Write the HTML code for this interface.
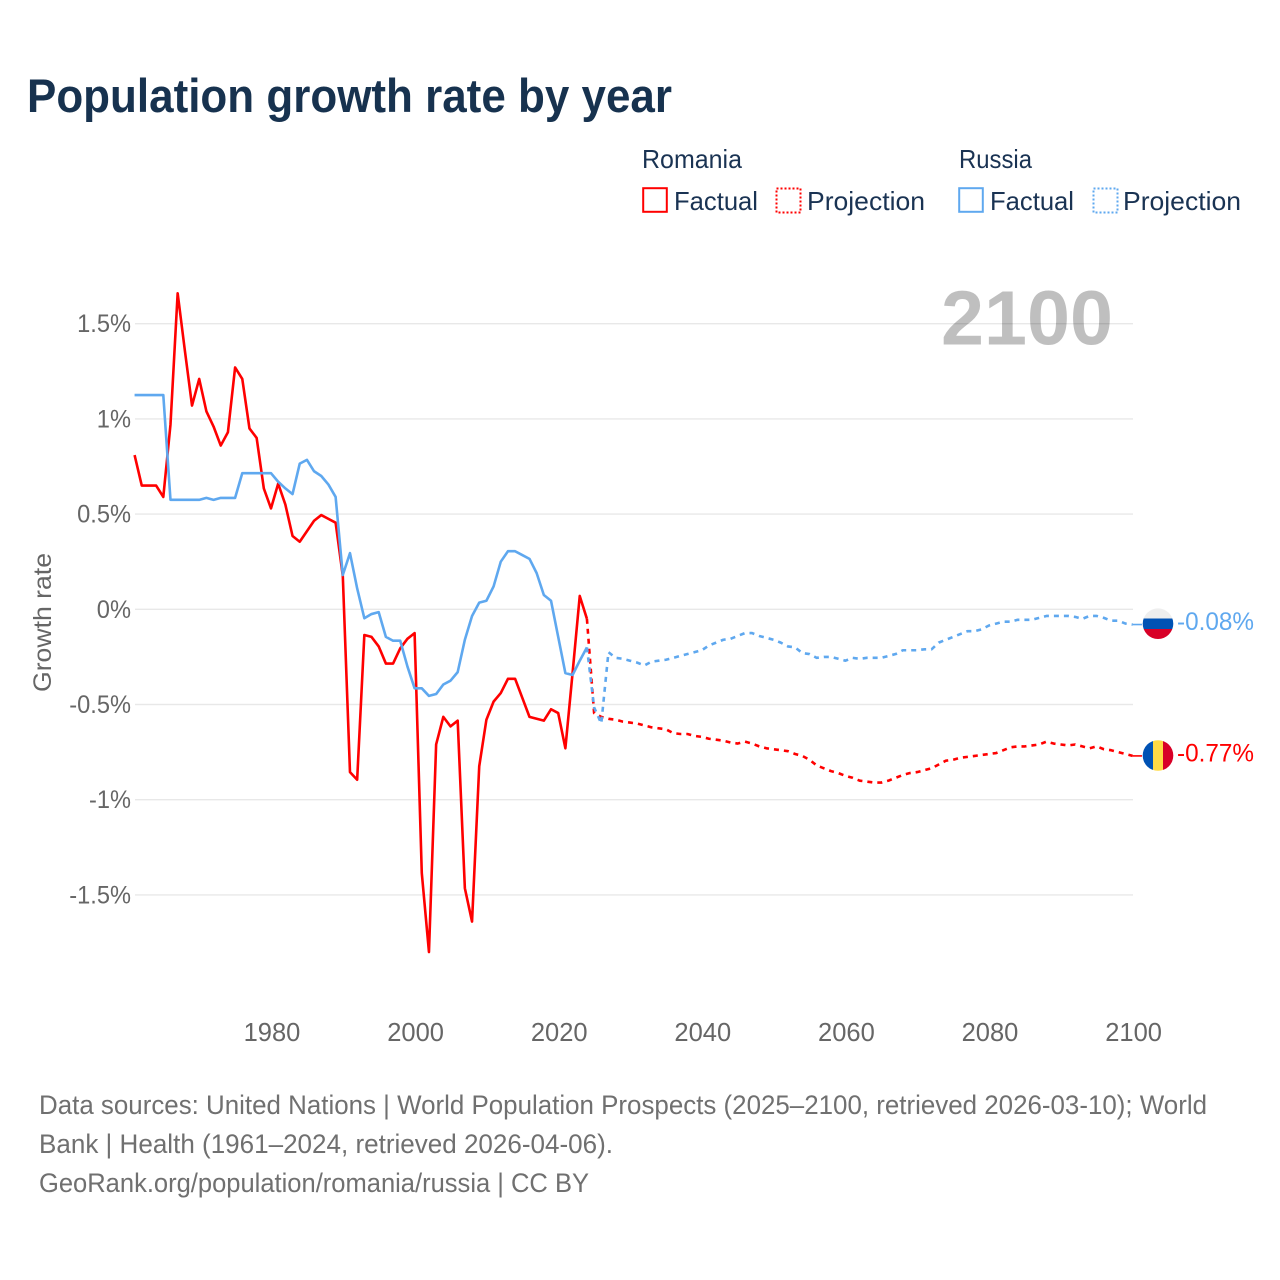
<!DOCTYPE html>
<html lang="en">
<head>
<meta charset="utf-8">
<title>Population growth rate by year</title>
<style>
html,body{margin:0;padding:0;background:#fff;}
svg{display:block;font-family:"Liberation Sans",sans-serif;}
</style>
</head>
<body>
<svg id="chart" xmlns="http://www.w3.org/2000/svg" width="1280" height="1280" viewBox="0 0 1280 1280">
  <rect width="1280" height="1280" fill="#ffffff"/>
  <text x="27" y="112" font-size="47" font-weight="700" fill="#17324f" textLength="645" lengthAdjust="spacingAndGlyphs">Population growth rate by year</text>

  <g font-size="26" fill="#1a3353">
    <text x="642" y="168" textLength="100" lengthAdjust="spacingAndGlyphs">Romania</text>
    <text x="959" y="168" textLength="73" lengthAdjust="spacingAndGlyphs">Russia</text>
    <g>
      <rect x="643.2" y="188.2" width="23.6" height="23.6" fill="none" stroke="#ff0000" stroke-width="2"/>
      <text x="674" y="210" textLength="84" lengthAdjust="spacingAndGlyphs">Factual</text>
    </g>
    <g>
      <rect x="776.5" y="188.5" width="24" height="24" fill="none" stroke="#ff0000" stroke-width="2" stroke-dasharray="2 2"/>
      <text x="807" y="210" textLength="118" lengthAdjust="spacingAndGlyphs">Projection</text>
    </g>
    <g>
      <rect x="959.2" y="188.2" width="23.6" height="23.6" fill="none" stroke="#5fa8ef" stroke-width="2"/>
      <text x="990" y="210" textLength="84" lengthAdjust="spacingAndGlyphs">Factual</text>
    </g>
    <g>
      <rect x="1093.5" y="188.5" width="24" height="24" fill="none" stroke="#5fa8ef" stroke-width="2" stroke-dasharray="2 2"/>
      <text x="1123" y="210" textLength="118" lengthAdjust="spacingAndGlyphs">Projection</text>
    </g>
  </g>

  <text x="941" y="344.5" font-size="77" font-weight="700" fill="#000000" fill-opacity="0.25" textLength="172" lengthAdjust="spacingAndGlyphs">2100</text>
  <g id="grid"></g>
  <g id="y-axis" font-size="25" fill="#666666" text-anchor="end"></g>
  <g id="x-axis" font-size="25.5" fill="#666666" text-anchor="middle"></g>
  <text transform="translate(51 622.5) rotate(-90)" font-size="25" fill="#666666" text-anchor="middle" textLength="139" lengthAdjust="spacingAndGlyphs">Growth rate</text>

  <g id="series" fill="none" stroke-linejoin="round"></g>

  <g>
    <clipPath id="clip-ru"><circle cx="1158" cy="623.7" r="15.3"/></clipPath>
    <g clip-path="url(#clip-ru)">
      <rect x="1140" y="606" width="36" height="13" fill="#eeeeee"/>
      <rect x="1140" y="618.5" width="36" height="10.5" fill="#0052b4"/>
      <rect x="1140" y="629" width="36" height="12" fill="#d80027"/>
    </g>
  </g>
  <g>
    <clipPath id="clip-ro"><circle cx="1158" cy="755.5" r="15.3"/></clipPath>
    <g clip-path="url(#clip-ro)">
      <rect x="1142" y="738" width="11" height="36" fill="#0052b4"/>
      <rect x="1153" y="738" width="10" height="36" fill="#ffda44"/>
      <rect x="1163" y="738" width="11" height="36" fill="#d80027"/>
    </g>
  </g>
  <text x="1177" y="630" font-size="25" fill="#5fa8ef" textLength="77" lengthAdjust="spacingAndGlyphs">-0.08%</text>
  <text x="1177" y="761.5" font-size="25" fill="#ff0000" textLength="77" lengthAdjust="spacingAndGlyphs">-0.77%</text>

  <g font-size="26.5" fill="#707070">
    <text x="39" y="1114" textLength="1168" lengthAdjust="spacingAndGlyphs">Data sources: United Nations | World Population Prospects (2025–2100, retrieved 2026-03-10); World</text>
    <text x="39" y="1153" textLength="574" lengthAdjust="spacingAndGlyphs">Bank | Health (1961–2024, retrieved 2026-04-06).</text>
    <text x="39" y="1192" textLength="550" lengthAdjust="spacingAndGlyphs">GeoRank.org/population/romania/russia | CC BY</text>
  </g>
</svg>
<script>
const yTickValues = [1.5, 1, 0.5, 0, -0.5, -1, -1.5];
const yTickLabels = ["1.5%", "1%", "0.5%", "0%", "-0.5%", "-1%", "-1.5%"];
const xTickYears = [1980, 2000, 2020, 2040, 2060, 2080, 2100];
const factualStartYear = 1961;
const projectionStartYear = 2024;
const romaniaFactual = [
  0.81,0.65,0.65,0.65,0.59,0.97,1.66,1.36,1.07,1.21,
  1.04,0.96,0.86,0.93,1.27,1.21,0.95,0.90,0.635,0.53,
  0.66,0.55,0.385,0.355,0.41,0.465,0.495,0.475,0.455,0.175,
  -0.855,-0.895,-0.135,-0.145,-0.195,-0.285,-0.285,-0.205,-0.155,-0.125,
  -1.385,-1.80,-0.71,-0.565,-0.615,-0.585,-1.465,-1.64,-0.825,-0.58,
  -0.485,-0.44,-0.365,-0.365,-0.465,-0.565,-0.575,-0.585,-0.525,-0.545,
  -0.73,-0.335,0.07,-0.05
];
const russiaFactual = [
  1.125,1.125,1.125,1.125,1.125,0.575,0.575,0.575,0.575,0.575,
  0.585,0.575,0.585,0.585,0.585,0.715,0.715,0.715,0.715,0.715,
  0.67,0.635,0.605,0.765,0.785,0.725,0.70,0.655,0.59,0.18,
  0.295,0.11,-0.047,-0.025,-0.015,-0.145,-0.165,-0.165,-0.30,-0.415,
  -0.415,-0.455,-0.445,-0.395,-0.375,-0.33,-0.16,-0.035,0.035,0.045,
  0.12,0.25,0.305,0.305,0.285,0.265,0.19,0.075,0.045,-0.145,
  -0.335,-0.345,-0.27,-0.20
];
const romaniaProjection = [
  -0.05,-0.545,-0.565,-0.575,-0.58,-0.59,-0.595,-0.60,-0.61,-0.62,
  -0.625,-0.63,-0.65,-0.655,-0.655,-0.665,-0.67,-0.68,-0.685,-0.69,
  -0.70,-0.705,-0.695,-0.705,-0.72,-0.73,-0.735,-0.74,-0.745,-0.76,
  -0.77,-0.79,-0.82,-0.835,-0.85,-0.86,-0.875,-0.885,-0.90,-0.905,
  -0.91,-0.91,-0.90,-0.885,-0.87,-0.86,-0.855,-0.845,-0.835,-0.815,
  -0.795,-0.79,-0.78,-0.775,-0.77,-0.765,-0.76,-0.755,-0.74,-0.725,
  -0.72,-0.72,-0.715,-0.71,-0.695,-0.705,-0.71,-0.715,-0.71,-0.72,
  -0.73,-0.72,-0.735,-0.74,-0.75,-0.76,-0.77
];
const russiaProjection = [
  -0.20,-0.515,-0.60,-0.225,-0.255,-0.26,-0.27,-0.28,-0.295,-0.275,
  -0.27,-0.265,-0.255,-0.245,-0.235,-0.225,-0.215,-0.19,-0.175,-0.16,
  -0.155,-0.14,-0.125,-0.125,-0.14,-0.15,-0.16,-0.175,-0.195,-0.20,
  -0.23,-0.235,-0.255,-0.25,-0.25,-0.26,-0.27,-0.255,-0.26,-0.255,
  -0.255,-0.255,-0.245,-0.235,-0.215,-0.215,-0.215,-0.21,-0.21,-0.175,
  -0.16,-0.145,-0.13,-0.115,-0.115,-0.105,-0.085,-0.075,-0.065,-0.065,
  -0.055,-0.055,-0.055,-0.045,-0.035,-0.035,-0.035,-0.035,-0.04,-0.05,
  -0.035,-0.035,-0.045,-0.06,-0.06,-0.075,-0.08
];

const SVG_NS = "http://www.w3.org/2000/svg";
function xScale(year) { return 271 + (year - 1980) * 7.18; }
function yScale(value) { return 609.3 - value * 190.4; }
function pointsFor(values, startYear) {
  return values.map((v, i) => xScale(startYear + i).toFixed(2) + "," + yScale(v).toFixed(2)).join(" ");
}
function addSeries(values, startYear, color, dash, name) {
  const line = document.createElementNS(SVG_NS, "polyline");
  line.setAttribute("points", pointsFor(values, startYear));
  line.setAttribute("stroke", color);
  line.setAttribute("stroke-width", "2.6");
  if (dash) line.setAttribute("stroke-dasharray", dash);
  
  
  document.getElementById("series").appendChild(line);
}
function addConnector(value, color, name) {
  const line = document.createElementNS(SVG_NS, "line");
  line.setAttribute("x1", xScale(2100));
  line.setAttribute("x2", 1142);
  line.setAttribute("y1", yScale(value));
  line.setAttribute("y2", yScale(value));
  line.setAttribute("stroke", color);
  line.setAttribute("stroke-width", "1.6");
  
  
  document.getElementById("series").appendChild(line);
}

yTickValues.forEach((v, i) => {
  const grid = document.createElementNS(SVG_NS, "line");
  grid.setAttribute("x1", 135);
  grid.setAttribute("x2", 1133);
  grid.setAttribute("y1", yScale(v));
  grid.setAttribute("y2", yScale(v));
  grid.setAttribute("stroke", "#000000");
  grid.setAttribute("stroke-opacity", "0.09");
  grid.setAttribute("stroke-width", "1.4");
  
  
  document.getElementById("grid").appendChild(grid);

  const label = document.createElementNS(SVG_NS, "text");
  label.setAttribute("x", 131);
  label.setAttribute("y", yScale(v) + 8.5);
  label.textContent = yTickLabels[i];
  
  
  document.getElementById("y-axis").appendChild(label);
  label.setAttribute("textLength", (label.getComputedTextLength() * 0.945).toFixed(1));
  label.setAttribute("lengthAdjust", "spacingAndGlyphs");
});

xTickYears.forEach((year) => {
  const label = document.createElementNS(SVG_NS, "text");
  label.setAttribute("x", xScale(year) + 1);
  label.setAttribute("y", 1041);
  label.textContent = String(year);
  
  
  document.getElementById("x-axis").appendChild(label);
});

addSeries(romaniaFactual, factualStartYear, "#ff0000", null, "romania-factual-line");
addSeries(russiaFactual, factualStartYear, "#5fa8ef", null, "russia-factual-line");
addSeries(romaniaProjection, projectionStartYear, "#ff0000", "5 5", "romania-projection-line");
addSeries(russiaProjection, projectionStartYear, "#5fa8ef", "5 5", "russia-projection-line");
addConnector(romaniaProjection[romaniaProjection.length - 1], "#ff0000", "romania-flag-connector");
addConnector(russiaProjection[russiaProjection.length - 1], "#5fa8ef", "russia-flag-connector");
</script>
</body>
</html>
